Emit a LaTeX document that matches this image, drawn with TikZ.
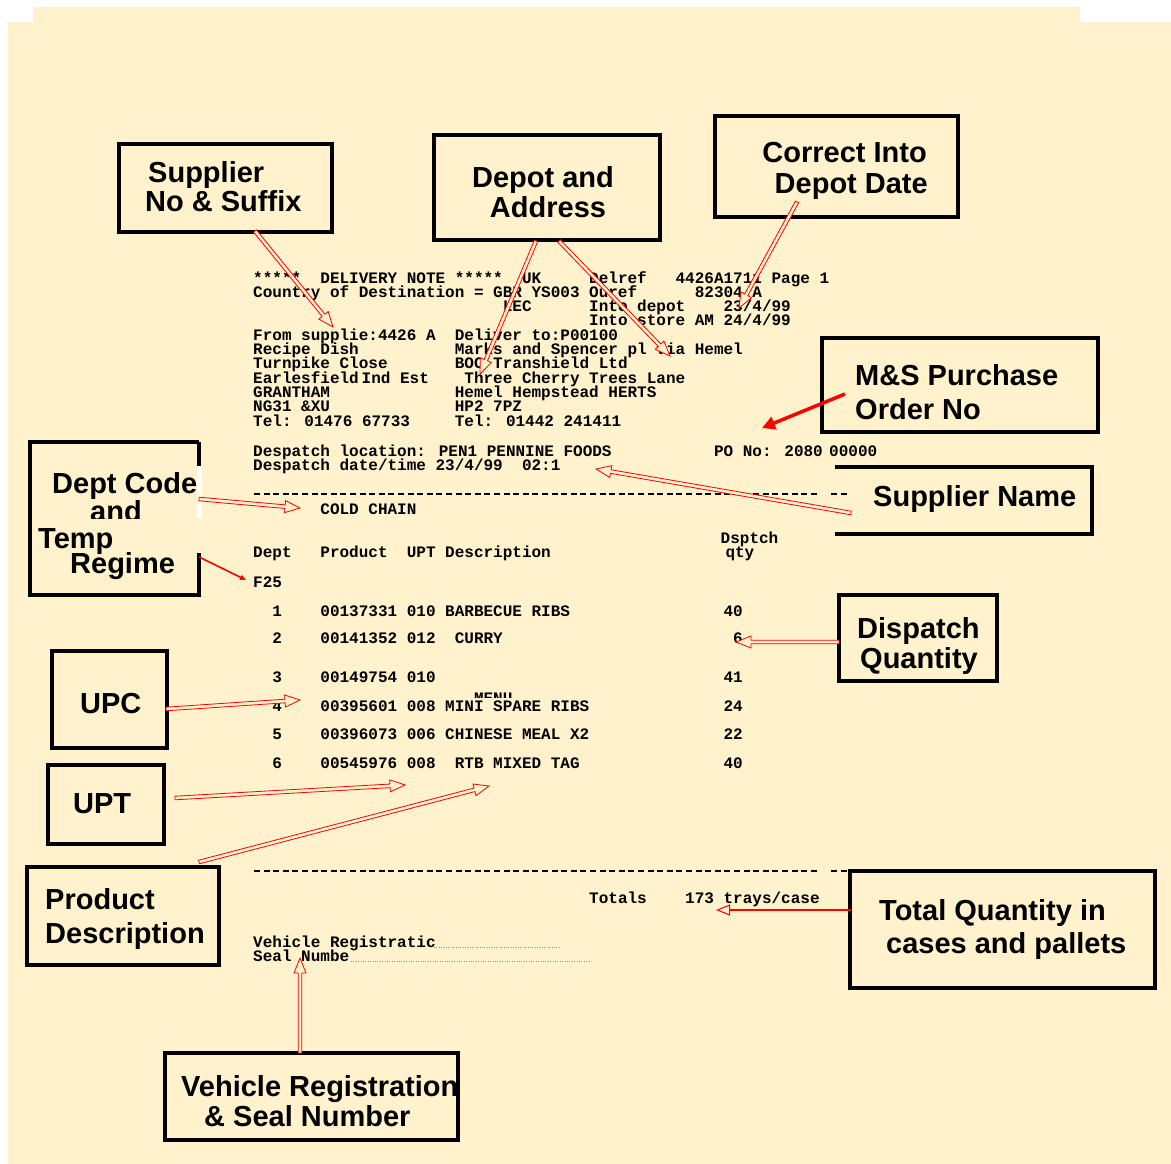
\documentclass[tikz,border=0pt]{standalone}
\usepackage{fontspec}
\setsansfont{Liberation Sans}
\newfontfamily\monofont{Liberation Mono}
\usetikzlibrary{calc,arrows.meta}
\definecolor{cream}{RGB}{255,242,204}
\definecolor{rd}{RGB}{255,0,0}
\newcounter{tl}
\newcommand{\mt}[3]{\stepcounter{tl}\edef\tn{t\arabic{tl}}\node[mono] (\tn) at ({253+#1*9.6},#2) {#3};}
\newcommand{\harrow}[2]{%
  \path coordinate (hh) at ($(#2)!15pt!(#1)$);
  \draw[harr] ($(#1)!1.8pt!90:(#2)$) -- ($(hh)!1.8pt!90:(#2)$) -- ($(hh)!6pt!90:(#2)$) -- (#2) -- ($(hh)!6pt!-90:(#2)$) -- ($(hh)!1.8pt!-90:(#2)$) -- ($(#1)!1.8pt!-90:(#2)$) -- cycle;}
\begin{document}
\begin{tikzpicture}[x=1pt,y=-1pt,
  mono/.style={font=\monofont\bfseries\fontsize{16}{16}\selectfont, anchor=base west, inner sep=0pt},
  anntext/.style={font=\sffamily\bfseries\fontsize{29}{29}\selectfont, anchor=base west, inner sep=0pt},
  annbox/.style={draw=black, line width=4pt, anchor=north west, inner sep=0pt, outer sep=0pt},
  openbox/.style={draw=none, anchor=north west, inner sep=0pt, outer sep=0pt},
  edge/.style={draw=black, line width=4pt},
  harr/.style={draw=rd, line width=0.8pt, fill=cream, line join=miter},
  dashline/.style={draw=black, line width=1.4pt, dash pattern=on 6pt off 3.6pt},
  dotline/.style={draw=black!45, line width=0.5pt, dash pattern=on 1pt off 1.4pt}]
\useasboundingbox (0,0) rectangle (1171,1164);
\fill[white] (0,0) rectangle (1171,1164);
\fill[cream] (8,22) rectangle (1171,1164);
\fill[cream] (33,7) rectangle (1080,23);

% ---- delivery note text ----
\mt{0}{283}{*****}
\mt{7}{283}{DELIVERY NOTE *****}
\mt{28}{283}{UK}
\mt{35}{283}{Delref}
\mt{44}{283}{4426A1711 Page 1}
\mt{0}{297}{Country of Destination = GBR YS003 Ouref}
\mt{46}{297}{82304 A}
\mt{26}{311}{LEC}
\mt{35}{311}{Into depot}
\mt{49}{311}{23/4/99}
\mt{35}{325}{Into store AM 24/4/99}
\mt{0}{340}{From supplie:4426 A}
\mt{21}{340}{Deliver to:P00100}
\mt{0}{354}{Recipe Dish}
\mt{21}{354}{Marks and Spencer pl via Hemel}
\mt{0}{368}{Turnpike Close}
\mt{21}{368}{BOC Transhield Ltd}
\mt{0}{383}{Earlesfield}
\mt{11.3}{383}{Ind Est}
\mt{22}{383}{Three Cherry Trees Lane}
\mt{0}{397}{GRANTHAM}
\mt{21}{397}{Hemel Hempstead HERTS}
\mt{0}{411}{NG31 \&XU}
\mt{21}{411}{HP2 7PZ}
\mt{0}{426}{Tel: 01476 67733}
\mt{21}{426}{Tel: 01442 241411}
\mt{0}{456}{Despatch location: PEN1 PENNINE FOODS}
\mt{48}{456}{PO No: 2080}
\mt{60}{456}{00000}
\mt{0}{470}{Despatch date/time 23/4/99}
\mt{28}{470}{02:1}
\mt{7}{514}{COLD CHAIN}
\mt{48.7}{543}{Dsptch}
\mt{0}{557}{Dept}
\mt{7}{557}{Product}
\mt{16}{557}{UPT Description}
\mt{49.2}{557}{qty}
\mt{0}{587}{F25}
\mt{2}{616}{1}\mt{7}{616}{00137331 010}\mt{20}{616}{BARBECUE RIBS}\mt{49}{616}{40}
\mt{2}{643}{2}\mt{7}{643}{00141352 012}\mt{21}{643}{CURRY}\mt{50}{643}{6}
\mt{2}{682}{3}\mt{7}{682}{00149754 010}\mt{49}{682}{41}
\begin{scope}
\clip (460,690) rectangle (530,697.5);
\mt{23}{703}{MENU}
\end{scope}
\mt{2}{711}{4}\mt{7}{711}{00395601 008}\mt{20}{711}{MINI SPARE RIBS}\mt{49}{711}{24}
\mt{2}{739}{5}\mt{7}{739}{00396073 006}\mt{20}{739}{CHINESE MEAL X2}\mt{49}{739}{22}
\mt{2}{768}{6}\mt{7}{768}{00545976 008}\mt{21}{768}{RTB MIXED TAG}\mt{49}{768}{40}
\mt{35}{903}{Totals}
\mt{45}{903}{173 trays/case}
\mt{0}{947}{Vehicle Registratic}
\mt{0}{961}{Seal Numbe}

\coordinate (d1a) at (254,494); \coordinate (d1b) at (820,494);
\coordinate (d1c) at (831,494); \coordinate (d1d) at (849,494);
\coordinate (d2a) at (254,871); \coordinate (d2b) at (820,871);
\coordinate (d2c) at (831,871); \coordinate (d2d) at (849,871);
\draw[dashline] (d1a) -- (d1b); \draw[dashline] (d1c) -- (d1d);
\draw[dashline] (d2a) -- (d2b); \draw[dashline] (d2c) -- (d2d);
\coordinate (v1a) at (434,947); \coordinate (v1b) at (559,947);
\coordinate (v2a) at (351,961); \coordinate (v2b) at (591,961);
\draw[dotline] (v1a) -- (v1b);
\draw[dotline] (v2a) -- (v2b);

% ---- annotation boxes ----
\node[annbox, minimum width=213pt, minimum height=88pt] (supbox) at (119,144) {};
\node[anntext] (sup1) at (148,182) {Supplier};
\node[anntext] (sup2) at (145,211) {No \& Suffix};

\node[annbox, minimum width=226pt, minimum height=105pt] (depbox) at (434,135) {};
\node[anntext, anchor=base] (dep1) at (543,187) {Depot and};
\node[anntext, anchor=base] (dep2) at (548,217) {Address};

\node[annbox, minimum width=243pt, minimum height=101pt] (corbox) at (715,116) {};
\node[anntext, anchor=base east] (cor1) at (927,162) {Correct Into};
\node[anntext, anchor=base east] (cor2) at (928,193) {Depot Date};

\node[annbox, minimum width=276pt, minimum height=94pt] (msbox) at (822,338) {};
\node[anntext] (ms1) at (855,385) {M\&S Purchase};
\node[anntext] (ms2) at (855,419) {Order No};

\node[openbox, minimum width=257pt, minimum height=67pt] (snbox) at (835,467) {};
\draw[edge] (snbox.north west) -- (snbox.north east) -- (snbox.south east) -- (snbox.south west);
\node[anntext] (sn1) at (873,506) {Supplier Name};

\node[openbox, minimum width=169pt, minimum height=153pt] (dcbox) at (30,442) {};
\draw[edge] (dcbox.north east) -- (dcbox.north west) -- (dcbox.south west) -- (dcbox.south east);
\coordinate (dcr1) at (199,442); \coordinate (dcr2) at (199,466);
\coordinate (dcr3) at (199,553); \coordinate (dcr4) at (199,597);
\draw[edge] (dcr1) -- (dcr2);
\draw[edge] (dcr3) -- (dcr4);
\fill[white] (197,466) rectangle (201.5,518);
\node[anntext] (dc1) at (52,493) {Dept Code};
\node[anntext] (dc2) at (90,521) {and};
\fill[cream] (32.5,519) rectangle (205,552);
\node[anntext] (dc3) at (38,548) {Temp};
\node[anntext] (dc4) at (70,573) {Regime};

\node[annbox, minimum width=158pt, minimum height=86pt] (dqbox) at (839,595) {};
\node[anntext] (dq1) at (857,638) {Dispatch};
\node[anntext] (dq2) at (860,668) {Quantity};

\node[annbox, minimum width=115pt, minimum height=97pt] (upcbox) at (52,651) {};
\node[anntext] (upc1) at (80,713) {UPC};

\node[annbox, minimum width=116pt, minimum height=79pt] (uptbox) at (48,765) {};
\node[anntext] (upt1) at (73,813) {UPT};

\node[annbox, minimum width=192pt, minimum height=98pt] (pdbox) at (27,867) {};
\node[anntext] (pd1) at (45,909) {Product};
\node[anntext] (pd2) at (45,943) {Description};

\node[annbox, minimum width=305pt, minimum height=117pt] (tqbox) at (850,871) {};
\node[anntext] (tq1) at (879,920) {Total Quantity in};
\node[anntext] (tq2) at (886,953) {cases and pallets};

\node[annbox, minimum width=293pt, minimum height=87pt] (vrbox) at (165,1053) {};
\node[anntext] (vr1) at (181,1096) {Vehicle Registration};
\node[anntext] (vr2) at (204,1126) {\& Seal Number};

% ---- arrows ----
\coordinate (a1s) at (255,231);  \coordinate (a1e) at (333,327);
\coordinate (a2s) at (536,241);  \coordinate (a2e) at (480,374);
\coordinate (a3s) at (559,241);  \coordinate (a3e) at (670,356);
\coordinate (a4s) at (797,202);  \coordinate (a4e) at (739,308);
\coordinate (a5s) at (845,394);  \coordinate (a5e) at (762,428);
\coordinate (a6s) at (851,513);  \coordinate (a6e) at (596,469);
\coordinate (a7s) at (199,499);  \coordinate (a7e) at (300,508);
\coordinate (a8s) at (199,557);  \coordinate (a8e) at (246,580);
\coordinate (a9s) at (166,709);  \coordinate (a9e) at (300,700);
\coordinate (a10s) at (175,798); \coordinate (a10e) at (405,785);
\coordinate (a11s) at (199,862); \coordinate (a11e) at (489,786);
\coordinate (a12s) at (839,642); \coordinate (a12e) at (736,642);
\coordinate (a13s) at (851,910); \coordinate (a13e) at (716,910);
\coordinate (a14s) at (300,1053); \coordinate (a14e) at (300,958);
\harrow{a1s}{a1e}
\harrow{a2s}{a2e}
\harrow{a3s}{a3e}
\harrow{a4s}{a4e}
\draw[rd, line width=3.5pt, -{Triangle[length=13pt,width=13pt]}] (a5s) -- (a5e);
\harrow{a6s}{a6e}
\harrow{a7s}{a7e}
\draw[rd, line width=1.6pt, -{Triangle[length=6pt,width=5pt]}] (a8s) -- (a8e);
\harrow{a9s}{a9e}
\harrow{a10s}{a10e}
\harrow{a11s}{a11e}
\harrow{a12s}{a12e}
\draw[rd, line width=2pt, -{Triangle[open,length=14pt,width=11pt,line width=1pt,fill=cream]}] (a13s) -- (a13e);
\harrow{a14s}{a14e}
\end{tikzpicture}
\end{document}
